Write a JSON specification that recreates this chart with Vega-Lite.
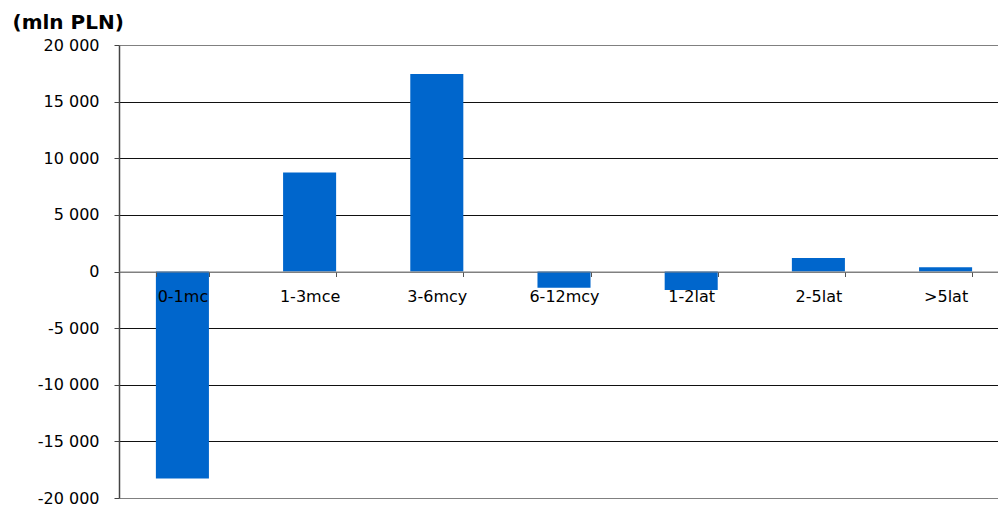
{
  "$schema": "https://vega.github.io/schema/vega-lite/v6.json",
  "width": 890,
  "height": 453,
  "autosize": {"type": "none"},
  "padding": {"left": 119, "top": 45, "right": 0, "bottom": 12},
  "background": "white",
  "config": {
    "view": {"stroke": null},
    "font": "DejaVu Sans"
  },
  "data": {
    "values": [
      {"term": "0-1mc", "value": -18270},
      {"term": "1-3mce", "value": 8750},
      {"term": "3-6mcy", "value": 17440},
      {"term": "6-12mcy", "value": -1430},
      {"term": "1-2lat", "value": -1630},
      {"term": "2-5lat", "value": 1190},
      {"term": ">5lat", "value": 370}
    ]
  },
  "mark": {"type": "bar", "color": "#0066CC"},
  "encoding": {
    "x": {
      "field": "term",
      "type": "nominal",
      "sort": null,
      "scale": {"paddingInner": 0.583, "paddingOuter": 0.29},
      "axis": {
        "title": null,
        "offset": -226.5,
        "zindex": 1,
        "labelAngle": 0,
        "labelFont": "DejaVu Sans",
        "labelFontSize": 16,
        "labelColor": "#000",
        "labelPadding": 12,
        "tickBand": "extent",
        "tickSize": 5,
        "tickColor": "#555",
        "domainColor": "#808080",
        "grid": false
      }
    },
    "y": {
      "field": "value",
      "type": "quantitative",
      "scale": {"domain": [-20000, 20000], "nice": false, "zero": false},
      "axis": {
        "values": [-20000, -15000, -10000, -5000, 0, 5000, 10000, 15000, 20000],
        "labelExpr": "replace(replace(format(datum.value, ','), ',', ' '), '\u2212', '-')",
        "labelFont": "DejaVu Sans",
        "labelFontSize": 16,
        "labelColor": "#000",
        "labelPadding": 15,
        "tickSize": 5,
        "tickColor": "#444",
        "domainColor": "#444",
        "domainWidth": 1.5,
        "grid": true,
        "gridColor": {
          "condition": {"test": "datum.value == 20000 || datum.value == -20000 || datum.value == 0", "value": "#808080"},
          "value": "#111"
        },
        "gridOpacity": 1,
        "title": "(mln PLN)",
        "titleAngle": 0,
        "titleAlign": "left",
        "titleBaseline": "alphabetic",
        "titleFont": "DejaVu Sans",
        "titleFontSize": 20,
        "titleFontWeight": "bold",
        "titleColor": "#000",
        "titleX": -107,
        "titleY": -17
      }
    }
  }
}
